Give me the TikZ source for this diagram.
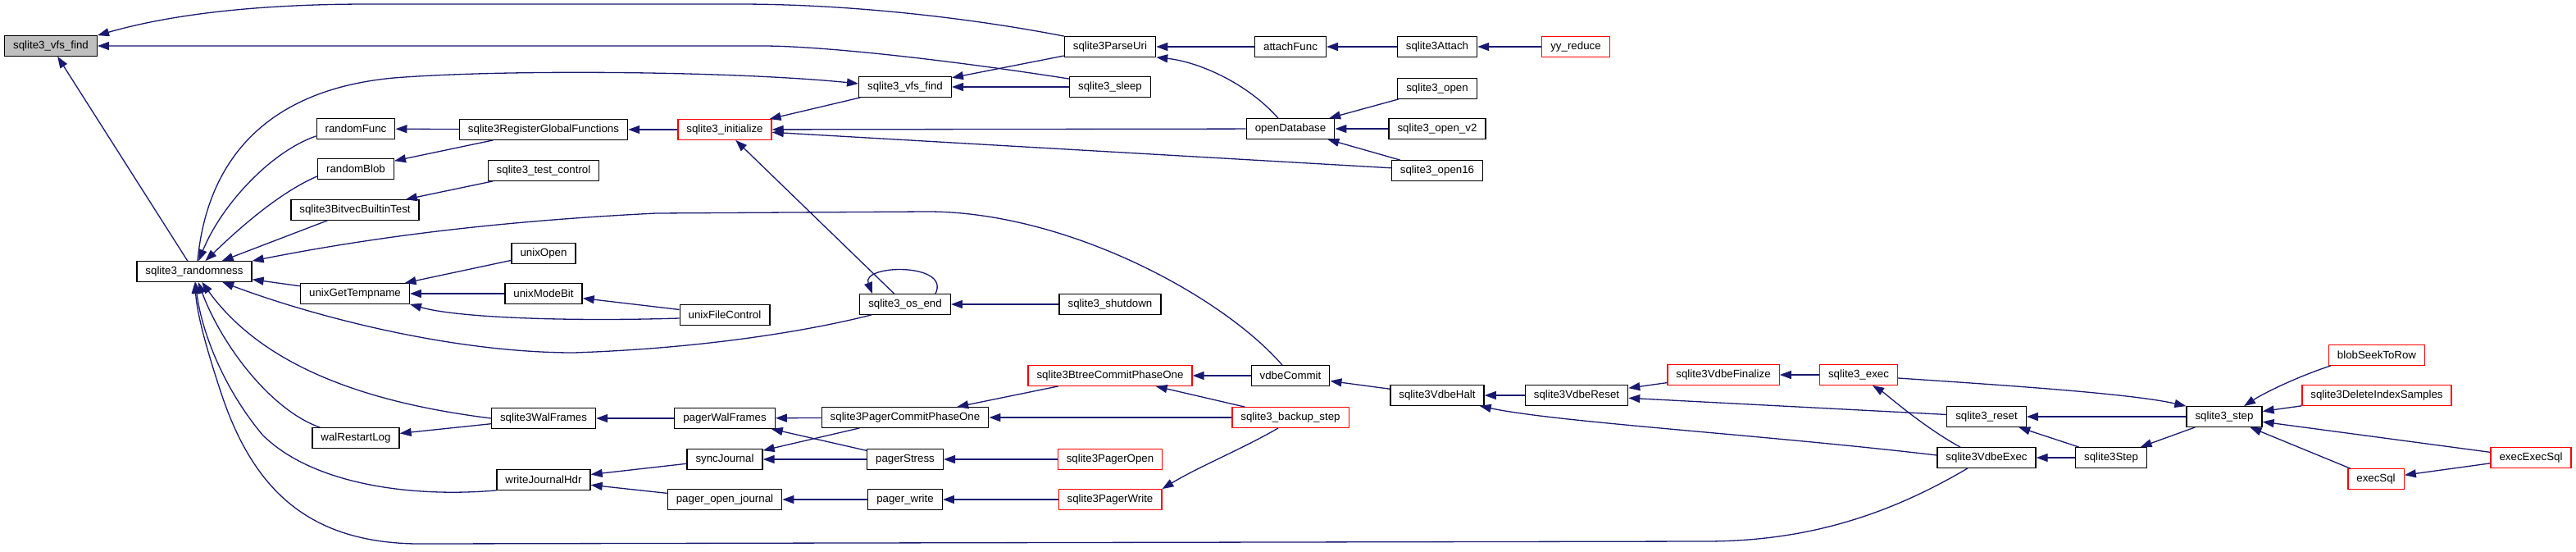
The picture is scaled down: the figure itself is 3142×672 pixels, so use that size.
\documentclass[tikz,border=0pt]{standalone}
\usepackage{fontspec}
\setmainfont{Liberation Sans}
\usetikzlibrary{arrows.meta}
\definecolor{edgec}{HTML}{191970}
\definecolor{rootfill}{HTML}{BFBFBF}
\begin{document}
\begin{tikzpicture}[x=1pt,y=-1pt,
 fn/.style={draw=black, line width=1.3pt, fill=white, minimum height=24.5pt, inner xsep=10.5pt, inner ysep=0pt, font=\fontsize{13.3}{15}\selectfont},
 rfn/.style={fn, draw=red},
 root/.style={fn, fill=rootfill},
 cl/.style={draw=edgec, line width=1.3pt, -{Triangle[length=14pt,width=10pt]}}]
\fill[white] (0,0) rectangle (3142,672);
\useasboundingbox (0,0) rectangle (3142,672);
% nodes
\node[root] (vfs) at (62,56) {sqlite3\_vfs\_find};
\node[fn] (rnd) at (237,331) {sqlite3\_randomness};
\node[fn] (rfunc) at (434,157) {randomFunc};
\node[fn] (rreg) at (663,158) {sqlite3RegisterGlobalFunctions};
\node[fn] (rblob) at (434,206) {randomBlob};
\node[fn] (tctl) at (663,208) {sqlite3\_test\_control};
\node[fn] (bvt) at (433,256) {sqlite3BitvecBuiltinTest};
\node[fn] (uopen) at (663,309) {unixOpen};
\node[fn] (ugt) at (433,358) {unixGetTempname};
\node[fn] (umb) at (663,358) {unixModeBit};
\node[fn] (walf) at (663,510) {sqlite3WalFrames};
\node[fn] (walr) at (434,534) {walRestartLog};
\node[fn] (wjh) at (663,585) {writeJournalHdr};
\node[fn] (puri) at (1354,57) {sqlite3ParseUri};
\node[fn] (attf) at (1574,57) {attachFunc};
\node[fn] (att) at (1753,57) {sqlite3Attach};
\node[rfn] (yyr) at (1922,57) {yy\_reduce};
\node[fn] (vfsm) at (1104,106) {sqlite3\_vfs\_find};
\node[fn] (slp) at (1354,106) {sqlite3\_sleep};
\node[fn] (opn) at (1753,108) {sqlite3\_open};
\node[rfn] (init) at (884,158) {sqlite3\_initialize};
\node[fn] (odb) at (1574,157) {openDatabase};
\node[fn] (opn2) at (1753,157) {sqlite3\_open\_v2};
\node[fn] (opn16) at (1753,208) {sqlite3\_open16};
\node[fn] (ufc) at (884,384) {unixFileControl};
\node[fn] (osend) at (1104,371) {sqlite3\_os\_end};
\node[fn] (shut) at (1354,371) {sqlite3\_shutdown};
\node[rfn] (btc) at (1354,458) {sqlite3BtreeCommitPhaseOne};
\node[fn] (vdc) at (1574,458) {vdbeCommit};
\node[fn] (vhalt) at (1753,482) {sqlite3VdbeHalt};
\node[fn] (pwf) at (884,510) {pagerWalFrames};
\node[fn] (pcp) at (1104,509) {sqlite3PagerCommitPhaseOne};
\node[rfn] (bks) at (1574,509) {sqlite3\_backup\_step};
\node[fn] (sync) at (884,560) {syncJournal};
\node[fn] (pst) at (1104,560) {pagerStress};
\node[rfn] (popen) at (1354,560) {sqlite3PagerOpen};
\node[fn] (poj) at (884,609) {pager\_open\_journal};
\node[fn] (pw) at (1104,609) {pager\_write};
\node[rfn] (spw) at (1354,609) {sqlite3PagerWrite};
\node[fn] (vreset) at (1923,482) {sqlite3VdbeReset};
\node[rfn] (vfin) at (2102,457) {sqlite3VdbeFinalize};
\node[rfn] (exec) at (2267,457) {sqlite3\_exec};
\node[fn] (reset) at (2423,508) {sqlite3\_reset};
\node[fn] (step) at (2713,508) {sqlite3\_step};
\node[rfn] (blob) at (2899,433) {blobSeekToRow};
\node[rfn] (dis) at (2899,482) {sqlite3DeleteIndexSamples};
\node[fn] (vexec) at (2423,558) {sqlite3VdbeExec};
\node[fn] (sstep) at (2575,558) {sqlite3Step};
\node[rfn] (ees) at (3087,558) {execExecSql};
\node[rfn] (esql) at (2898,584) {execSql};
% edges into the root
\draw[cl] (puri.north west) .. controls (1200,25) and (1050,5) .. (900,5) -- (450,5) .. controls (300,5) and (200,20) .. (vfs.north east);
\draw[cl] ([yshift=-3pt]slp.north west) .. controls (1150,72) and (1000,56) .. (930,56) -- (vfs.east);
\draw[cl] (rnd) -- (vfs);
% edges into sqlite3_randomness
\draw[cl] ([yshift=4pt]rfunc.south west) .. controls (330,185) and (270,250) .. (rnd);
\draw[cl] ([yshift=4pt]rblob.south west) .. controls (340,235) and (290,280) .. (rnd);
\draw[cl] (bvt) -- (rnd);
\draw[cl] ([xshift=-10pt]vdc.north) .. controls (1490,360) and (1300,258) .. (1131,258) -- (800,260) .. controls (600,270) and (450,290) .. (rnd.north east);
\draw[cl] (ugt) -- (rnd);
\draw[cl] ([xshift=-41pt]osend.south) .. controls (980,405) and (850,425) .. (700,430) .. controls (550,430) and (380,385) .. (rnd);
\draw[cl] (walf.west) .. controls (480,495) and (330,460) .. (rnd);
\draw[cl] ([xshift=10pt]walr.north west) .. controls (330,500) and (270,420) .. (rnd);
\draw[cl] (wjh.south west) .. controls (500,607) and (380,590) .. (320,530) .. controls (270,470) and (245,400) .. (rnd);
\draw[cl] ([xshift=-23pt]vexec.south) .. controls (2300,630) and (2200,660) .. (2080,660) -- (520,663) .. controls (380,665) and (310,600) .. (270,480) .. controls (250,420) and (240,380) .. (rnd);
\draw[cl] ([xshift=4pt]rnd.north) .. controls (252,200) and (320,110) .. (480,95) .. controls (620,84) and (900,87) .. ([yshift=4pt]vfsm.west);
% left block
\draw[cl] (rreg) -- (rfunc);
\draw[cl] (rreg) -- (rblob);
\draw[cl] (tctl) -- (bvt);
\draw[cl] (init) -- (rreg);
\draw[cl] (uopen) -- (ugt);
\draw[cl] (umb) -- (ugt);
\draw[cl] ([yshift=-4pt]ufc.west) .. controls (700,392) and (560,388) .. (ugt.south east);
\draw[cl] (ufc) -- (umb);
% initialize block
\draw[cl] (vfsm) -- (init);
\draw[cl] (odb) -- (init);
\draw[cl] (opn16) -- (init);
\draw[cl] (osend) -- (init);
\draw[cl] (puri) -- (vfsm);
\draw[cl] (slp) -- (vfsm);
\draw[cl] (attf) -- (puri);
\draw[cl] ([xshift=-15pt]odb.north) .. controls (1520,100) and (1460,75) .. (puri.south east);
\draw[cl] (att) -- (attf);
\draw[cl] (yyr) -- (att);
\draw[cl] (opn) -- (odb);
\draw[cl] (opn2) -- (odb);
\draw[cl] (opn16) -- (odb);
\draw[cl] ([xshift=37pt]osend.north) .. controls (1160,320) and (1050,322) .. ([xshift=-40pt]osend.north);
\draw[cl] (shut) -- (osend);
% pager block
\draw[cl] (pwf) -- (walf);
\draw[cl] (walf) -- (walr);
\draw[cl] (sync) -- (wjh);
\draw[cl] (poj) -- (wjh);
\draw[cl] (pcp) -- (pwf);
\draw[cl] (pst) -- (pwf);
\draw[cl] (pcp) -- (sync);
\draw[cl] (pst) -- (sync);
\draw[cl] (btc) -- (pcp);
\draw[cl] (bks) -- (pcp);
\draw[cl] (popen) -- (pst);
\draw[cl] (pw) -- (poj);
\draw[cl] (spw) -- (pw);
\draw[cl] ([xshift=-15pt]bks.south) .. controls (1520,545) and (1460,570) .. (spw.north east);
\draw[cl] (vdc) -- (btc);
\draw[cl] (bks) -- (btc);
% vdbe block
\draw[cl] (vhalt) -- (vdc);
\draw[cl] (vreset) -- (vhalt);
\draw[cl] ([yshift=3pt]vexec.west) .. controls (2150,530) and (1900,515) .. ([xshift=-6pt]vhalt.south east);
\draw[cl] (vfin) -- (vreset);
\draw[cl] (reset) -- (vreset);
\draw[cl] (exec) -- (vfin);
\draw[cl] ([xshift=-32pt]vexec.north) .. controls (2345,520) and (2300,480) .. ([xshift=17pt]exec.south);
\draw[cl] ([yshift=-4pt]exec.east) .. controls (2450,470) and (2600,480) .. (step.north west);
\draw[cl] (step) -- (reset);
\draw[cl] (sstep) -- (reset);
\draw[cl] (sstep) -- (vexec);
\draw[cl] (step) -- (sstep);
\draw[cl] ([xshift=3pt]blob.south west) .. controls (2800,460) and (2760,480) .. ([xshift=24pt]step.north);
\draw[cl] (dis) -- (step);
\draw[cl] (ees) -- (step);
\draw[cl] (esql) -- (step);
\draw[cl] (ees) -- (esql);
\end{tikzpicture}
\end{document}
